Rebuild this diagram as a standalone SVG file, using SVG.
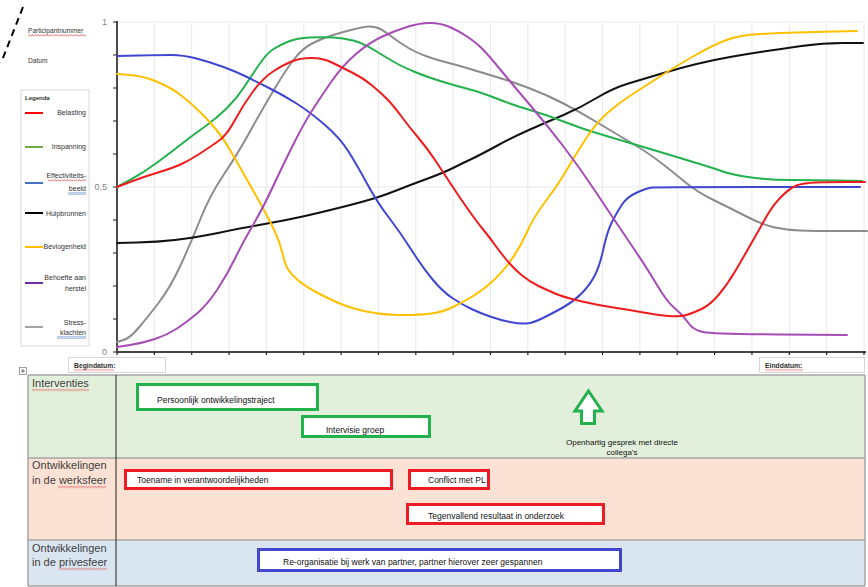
<svg xmlns="http://www.w3.org/2000/svg" width="868" height="587" viewBox="0 0 868 587">
  <defs>
    <pattern id="sqRed" width="3" height="3" patternUnits="userSpaceOnUse">
      <path d="M0,2.4 L1.5,0.6 L3,2.4" fill="none" stroke="#e23b3b" stroke-width="0.7"/>
    </pattern>
    <pattern id="sqBlue" width="3" height="3" patternUnits="userSpaceOnUse">
      <path d="M0,0.8 H3 M0,2.2 H3" fill="none" stroke="#5b7fd0" stroke-width="0.6"/>
    </pattern>
  </defs>
  <style>
    text { font-family: "Liberation Sans", Arial, sans-serif; }
    .grid { stroke: #e8e8e8; stroke-width: 1; fill: none; }
    .tick { stroke: #222; stroke-width: 1.2; }
    .axisLbl { font-size: 9px; fill: #7f7f7f; text-anchor: end; }
    .curve { fill: none; stroke-width: 2; stroke-linejoin: round; stroke-linecap: round; }
    .leg { font-size: 7px; fill: #333; text-anchor: end; }
    .legLine { stroke-width: 2; }
    .small { font-size: 6.6px; fill: #333; }
    .dateBox { fill: #fff; stroke: #d6d6d6; stroke-width: 1; }
    .dateTxt { font-size: 6.8px; font-weight: bold; fill: #333; }
    .rowLbl { font-size: 11px; fill: #404040; }
    .evt { fill: #fff; stroke-width: 3; }
    .evtTxt { font-size: 8.5px; fill: #111; }
    .g { stroke: #22b14c; }
    .r { stroke: #ed1c24; }
    .b { stroke: #3f48cc; }
    .sqR { fill: url(#sqRed); }
    .sqB { fill: url(#sqBlue); }
  </style>

  <rect width="868" height="587" fill="#fff"/>

  <!-- header fields -->
  <g id="header">
    <path d="M23,7 L1,63" stroke="#000" stroke-width="2" stroke-dasharray="7,5"/>
    <text class="small" x="28" y="33">Participantnummer</text>
    <rect class="sqR" x="0" y="0" width="58" height="3" transform="translate(28,34)"/>
    <text class="small" x="28" y="63">Datum</text>
  </g>

  <!-- chart frame -->
  <g id="chart-grid">
    <line class="grid" x1="117" y1="22" x2="864" y2="22"/>
    <line class="grid" x1="117" y1="187" x2="864" y2="187"/>
    <path class="grid" d="M154.35,22V352 M191.7,22V352 M229.05,22V352 M266.4,22V352 M303.75,22V352 M341.1,22V352 M378.45,22V352 M415.8,22V352 M453.15,22V352 M490.5,22V352 M527.85,22V352 M565.2,22V352 M602.55,22V352 M639.9,22V352 M677.25,22V352 M714.6,22V352 M751.95,22V352 M789.3,22V352 M826.65,22V352 M864,22V352"/>
  </g>

  <g id="axes">
    <line x1="117" y1="21" x2="117" y2="352" stroke="#111" stroke-width="1.5"/>
    <line x1="117" y1="352" x2="866" y2="352" stroke="#444" stroke-width="2"/>
    <path class="tick" d="M113,22H117 M113,55H117 M113,88H117 M113,121H117 M113,154H117 M113,187H117 M113,220H117 M113,253H117 M113,286H117 M113,319H117 M113,352H117"/>
    <path class="tick" d="M117,352v3 M154.35,352v3 M191.7,352v3 M229.05,352v3 M266.4,352v3 M303.75,352v3 M341.1,352v3 M378.45,352v3 M415.8,352v3 M453.15,352v3 M490.5,352v3 M527.85,352v3 M565.2,352v3 M602.55,352v3 M639.9,352v3 M677.25,352v3 M714.6,352v3 M751.95,352v3 M789.3,352v3 M826.65,352v3 M864,352v3"/>
    <text class="axisLbl" x="107" y="25">1</text>
    <text class="axisLbl" x="107" y="190">0,5</text>
    <text class="axisLbl" x="107" y="355">0</text>
  </g>

  <!-- data series, smoothed through their sample points -->
  <g id="series">
    <path id="stressklachten" class="curve" stroke="#8c8c8c" d="M117,342 L123.5,340 Q130,338 138.5,328 Q147,318 158.5,303 Q170,288 180,266.5 Q190,245 200,220 Q210,195 223.5,175 Q237,155 250,131.5 Q263,108 275,88 Q287,68 295,58 Q303,48 313,43 Q323,38 333,35 Q343,32 353,29.5 Q363,27 368,26.5 Q373,26 378,28 Q383,30 391.5,36.5 Q400,43 408.5,48 Q417,53 427,56.5 Q437,60 447,62.5 Q457,65 468.5,68.5 Q480,72 496.5,77 Q513,82 530,88.5 Q547,95 563.5,103.5 Q580,112 596.5,122 Q613,132 630,142 Q647,152 660,162 Q673,172 685,182 Q697,192 713.5,200 Q730,208 746.5,216.5 Q763,225 775,227.5 Q787,230 800,230.5 Q813,231 840,231 L867,231"/>
    <path id="hulpbronnen" class="curve" stroke="#111" d="M117,243 L137,242.5 Q157,242 175,240 Q193,238 218,233 Q243,228 256.5,225.5 Q270,223 283.5,220.5 Q297,218 320,212.5 Q343,207 361.5,202 Q380,197 395,191 Q410,185 426.5,179 Q443,173 453,168 Q463,163 471.5,159 Q480,155 496.5,146 Q513,137 530,129.5 Q547,122 563.5,115 Q580,108 596.5,98 Q613,88 630,83 Q647,78 663.5,73 Q680,68 696.5,64 Q713,60 730,57 Q747,54 763.5,51.5 Q780,49 801.5,46 Q823,43 843,43 L863,43"/>
    <path id="inspanning" class="curve" stroke="#22b14c" d="M117,187 L130,180 Q143,173 156.5,163 Q170,153 181.5,144 Q193,135 205,126.5 Q217,118 227,108 Q237,98 243.5,88 Q250,78 258.5,65.5 Q267,53 273.5,49 Q280,45 288.5,41.5 Q297,38 310,37.5 Q323,37 333,37.5 Q343,38 353,40.5 Q363,43 375,50.5 Q387,58 395,62.5 Q403,67 415,72 Q427,77 443.5,82 Q460,87 470,89.5 Q480,92 496.5,98.5 Q513,105 530,110 Q547,115 563.5,121.5 Q580,128 596.5,133 Q613,138 630,143 Q647,148 663.5,153 Q680,158 696.5,163 Q713,168 723,171.5 Q733,175 751.5,177.5 Q770,180 791.5,180 Q813,180 837.5,180.5 L862,181"/>
    <path id="effectiviteitsbeeld" class="curve" stroke="#4046d0" d="M117,56 L138.5,55.5 Q160,55 171.5,55 Q183,55 196.5,58.5 Q210,62 223.5,67 Q237,72 247,77 Q257,82 270,88.5 Q283,95 296.5,103.5 Q310,112 325,125 Q340,138 348.5,151.5 Q357,165 367,183.5 Q377,202 388.5,217 Q400,232 411.5,250 Q423,268 433,280 Q443,292 453,298.5 Q463,305 471.5,309 Q480,313 490,316.5 Q500,320 510,322 Q520,324 526.5,323.5 Q533,323 543,318 Q553,313 563,307.5 Q573,302 581.5,293.5 Q590,285 595,275 Q600,265 603.5,248.5 Q607,232 612,222 Q617,212 622,204.5 Q627,197 637,192.5 Q647,188 652,187.5 Q657,187 758.5,187 L860,187"/>
    <path id="bevlogenheid" class="curve" stroke="#ffc000" d="M117,74 L130,75 Q143,76 156.5,81.5 Q170,87 180,94.5 Q190,102 200,112 Q210,122 216.5,130 Q223,138 230,150 Q237,162 243.5,173.5 Q250,185 256.5,196.5 Q263,208 270,221.5 Q277,235 280,245 Q283,255 285,262.5 Q287,270 295,277.5 Q303,285 315,291.5 Q327,298 338.5,303 Q350,308 366.5,311.5 Q383,315 401.5,315 Q420,315 431.5,313.5 Q443,312 453,307 Q463,302 471.5,297 Q480,292 490,283.5 Q500,275 510,261.5 Q520,248 526.5,233 Q533,218 546.5,200 Q560,182 568.5,167 Q577,152 587,137 Q597,122 608.5,112 Q620,102 633.5,93.5 Q647,85 660,76.5 Q673,68 693,56.5 Q713,45 726.5,40 Q740,35 760,34 Q780,33 796.5,32.5 Q813,32 835,31.5 L857,31"/>
    <path id="behoefte-aan-herstel" class="curve" stroke="#a64cb5" d="M117,347 L130,345 Q143,343 155,339 Q167,335 177,328.5 Q187,322 197,313.5 Q207,305 217,290 Q227,275 235,258.5 Q243,242 253,225 Q263,208 273,186.5 Q283,165 293,145 Q303,125 311.5,111.5 Q320,98 331.5,81.5 Q343,65 356.5,53.5 Q370,42 383.5,36 Q397,30 408.5,26.5 Q420,23 430,23 Q440,23 448.5,26.5 Q457,30 467,36.5 Q477,43 483.5,50 Q490,57 501.5,71 Q513,85 530,105 Q547,125 563.5,146.5 Q580,168 596.5,193 Q613,218 630,243 Q647,268 657,285 Q667,302 675,308.5 Q683,315 688,322.5 Q693,330 703,332 Q713,334 780,334.5 L847,335"/>
    <path id="belasting" class="curve" stroke="#ee1c1c" d="M117,187 L130,182 Q143,177 158,172.5 Q173,168 181.5,164 Q190,160 200,153.5 Q210,147 218.5,141 Q227,135 235,120 Q243,105 253,91.5 Q263,78 273,71.5 Q283,65 291.5,61.5 Q300,58 311.5,58 Q323,58 333,63 Q343,68 353,73 Q363,78 371.5,85 Q380,92 386.5,98.5 Q393,105 401.5,116.5 Q410,128 418.5,138 Q427,148 435,160 Q443,172 451.5,185 Q460,198 468.5,210 Q477,222 483.5,230 Q490,238 493.5,243 Q497,248 505,258 Q513,268 521.5,275 Q530,282 538.5,286 Q547,290 555,293.5 Q563,297 580,301 Q597,305 613.5,307.5 Q630,310 643.5,312.5 Q657,315 668.5,316 Q680,317 686.5,315 Q693,313 701.5,309 Q710,305 718.5,295 Q727,285 735,271.5 Q743,258 751.5,243 Q760,228 766.5,216.5 Q773,205 781.5,196.5 Q790,188 796.5,185.5 Q803,183 816.5,182.5 Q830,182 847.5,182 L865,182"/>
  </g>

  <!-- legend -->
  <g id="legend">
    <rect x="21" y="90" width="68" height="256" fill="#fff" stroke="#d9d9d9" stroke-width="1"/>
    <text x="25" y="99.5" font-size="6px" font-weight="bold" fill="#333">Legenda</text>
    <line class="legLine" x1="25" y1="113" x2="43" y2="113" stroke="#ff0000"/>
    <text class="leg" x="86" y="115">Belasting</text>
    <line class="legLine" x1="25" y1="147" x2="43" y2="147" stroke="#70ad47"/>
    <text class="leg" x="86" y="148.5">Inspanning</text>
    <line class="legLine" x1="25" y1="183" x2="43" y2="183" stroke="#4472c4"/>
    <text class="leg" x="86" y="178">Effectiviteits-</text>
    <rect class="sqR" x="0" y="0" width="38" height="3" transform="translate(48,179)"/>
    <text class="leg" x="86" y="191">beeld</text>
    <rect class="sqB" x="0" y="0" width="18" height="3" transform="translate(68,192)"/>
    <line class="legLine" x1="25" y1="213" x2="43" y2="213" stroke="#000"/>
    <text class="leg" x="86" y="216">Hulpbronnen</text>
    <line class="legLine" x1="25" y1="247" x2="43" y2="247" stroke="#ffc000"/>
    <text class="leg" x="86" y="249">Bevlogenheid</text>
    <line class="legLine" x1="25" y1="283" x2="43" y2="283" stroke="#7030a0"/>
    <text class="leg" x="86" y="280">Behoefte aan</text>
    <text class="leg" x="86" y="291">herstel</text>
    <line class="legLine" x1="25" y1="327" x2="43" y2="327" stroke="#a5a5a5"/>
    <text class="leg" x="86" y="325">Stress-</text>
    <text class="leg" x="86" y="335">klachten</text>
    <rect class="sqB" x="0" y="0" width="29" height="3" transform="translate(57,336)"/>
  </g>

  <!-- start / end date fields -->
  <g id="begindatum">
    <rect class="dateBox" x="68.5" y="357.5" width="97" height="15"/>
    <text class="dateTxt" x="74" y="367.5">Begindatum:</text>
    <rect class="sqR" x="0" y="0" width="40" height="3" transform="translate(74,368.5)"/>
  </g>
  <g id="einddatum">
    <rect class="dateBox" x="759.5" y="357.5" width="105" height="15"/>
    <text class="dateTxt" x="765" y="367.5">Einddatum:</text>
    <rect class="sqR" x="0" y="0" width="38" height="3" transform="translate(765,368.5)"/>
  </g>

  <!-- table move handle -->
  <g id="table-handle">
    <rect x="19.5" y="367.5" width="7" height="7" fill="#fff" stroke="#8a8a8a" stroke-width="0.8"/>
    <path d="M23,369 V373 M21,371 H25" stroke="#555" stroke-width="0.8"/>
  </g>

  <!-- timeline table -->
  <g id="table">
    <rect x="28" y="375" width="837" height="83" fill="#e2efda"/>
    <rect x="28" y="458" width="837" height="82" fill="#fbe2d5"/>
    <rect x="28" y="540" width="837" height="46" fill="#dae5f2"/>
    <path d="M28,375 H865 M28,458 H865 M28,540 H865 M28,586 H865" stroke="#a6a6a6" stroke-width="1.5" fill="none"/>
    <path d="M28,375 V586 M865,375 V586" stroke="#a6a6a6" stroke-width="1.5" fill="none"/>
    <line x1="116" y1="375" x2="116" y2="586" stroke="#222" stroke-width="1"/>
  </g>

  <g id="row-interventies">
    <text class="rowLbl" x="32" y="387">Interventies</text>
    <rect class="sqR" x="0" y="0" width="57" height="3" transform="translate(32,388.5)"/>
  </g>
  <g id="row-werksfeer">
    <text class="rowLbl" x="32" y="469">Ontwikkelingen</text>
    <text class="rowLbl" x="32" y="484">in de werksfeer</text>
    <rect class="sqR" x="0" y="0" width="48" height="3" transform="translate(58,485.5)"/>
  </g>
  <g id="row-privesfeer">
    <text class="rowLbl" x="32" y="552">Ontwikkelingen</text>
    <text class="rowLbl" x="32" y="566">in de privesfeer</text>
    <rect class="sqR" x="0" y="0" width="48" height="3" transform="translate(59,567.5)"/>
  </g>

  <!-- interventions -->
  <g id="persoonlijk-ontwikkelingstraject">
    <rect class="evt g" x="137.5" y="384.5" width="180" height="25"/>
    <text class="evtTxt" x="157" y="403">Persoonlijk ontwikkelingstraject</text>
  </g>
  <g id="intervisie-groep">
    <rect class="evt g" x="302.5" y="416.5" width="127" height="20"/>
    <text class="evtTxt" x="326" y="433">Intervisie groep</text>
  </g>
  <g id="openhartig-gesprek">
    <polygon points="588.5,391 602,411 594.5,411 594.5,423.5 581.5,423.5 581.5,411 575,411" fill="#fff" stroke="#22b14c" stroke-width="3" stroke-linejoin="miter"/>
    <text x="622" y="445" font-size="8px" fill="#111" text-anchor="middle">Openhartig gesprek met directe</text>
    <text x="622" y="455" font-size="8px" fill="#111" text-anchor="middle">collega’s</text>
  </g>

  <!-- work-related developments -->
  <g id="toename-verantwoordelijkheden">
    <rect class="evt r" x="125.5" y="470.5" width="266" height="18"/>
    <text class="evtTxt" x="137" y="483">Toename in verantwoordelijkheden</text>
  </g>
  <g id="conflict-met-pl">
    <rect class="evt r" x="409.5" y="470.5" width="79" height="18"/>
    <text class="evtTxt" x="428" y="483">Conflict met PL</text>
  </g>
  <g id="tegenvallend-resultaat">
    <rect class="evt r" x="407.5" y="504.5" width="196" height="19"/>
    <text class="evtTxt" x="428" y="519">Tegenvallend resultaat in onderzoek</text>
  </g>

  <!-- private developments -->
  <g id="reorganisatie-partner">
    <rect class="evt b" x="258.5" y="549.5" width="362" height="21"/>
    <text class="evtTxt" x="283" y="565">Re-organisatie bij werk van partner, partner hierover zeer gespannen</text>
  </g>
</svg>
